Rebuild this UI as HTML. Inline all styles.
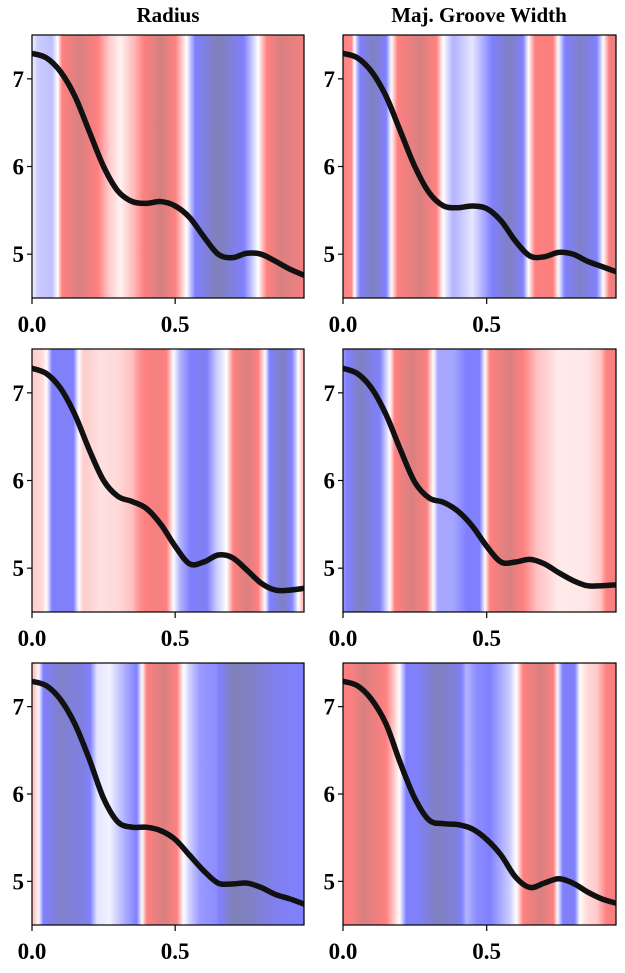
<!DOCTYPE html>
<html><head><meta charset="utf-8"><style>
html,body{margin:0;padding:0;background:#fff;}
svg text{font-family:"Liberation Serif","DejaVu Serif",serif;font-weight:bold;fill:#000;}
</style></head><body>
<svg id="fig" width="625" height="968" viewBox="0 0 625 968" xmlns="http://www.w3.org/2000/svg">
<defs id="defs"></defs>
<text x="168" y="22" font-size="21" text-anchor="middle">Radius</text>
<text x="479" y="22" font-size="21" text-anchor="middle">Maj. Groove Width</text>
</svg>
<script>
// shared axis data
const xTicks = [0.0, 0.5];
const xTickLabels = ["0.0", "0.5"];
const yTicks = [5, 6, 7];
const yTickLabels = ["5", "6", "7"];
const curveX = [0,0.05,0.1,0.15,0.2,0.25,0.3,0.35,0.4,0.45,0.5,0.55,0.6,0.65,0.7,0.75,0.8,0.85,0.9,0.95];
// curve values per panel
const curve1 = [7.29,7.24,7.08,6.8,6.4,6.0,5.72,5.6,5.58,5.6,5.55,5.42,5.2,5.0,4.96,5.01,5.0,4.92,4.83,4.76];
const curve2 = [7.29,7.24,7.08,6.8,6.4,6.0,5.7,5.55,5.53,5.55,5.52,5.38,5.15,4.98,4.97,5.02,5.0,4.92,4.86,4.8];
const curve3 = [7.28,7.22,7.05,6.75,6.35,6.0,5.82,5.76,5.68,5.5,5.25,5.05,5.07,5.15,5.12,4.98,4.83,4.75,4.75,4.77];
const curve4 = [7.28,7.22,7.05,6.75,6.35,5.98,5.8,5.75,5.65,5.48,5.25,5.07,5.07,5.1,5.05,4.95,4.86,4.8,4.8,4.81];
const curve5 = [7.29,7.24,7.08,6.8,6.4,5.95,5.68,5.62,5.62,5.58,5.48,5.3,5.12,4.98,4.97,4.98,4.93,4.85,4.8,4.74];
const curve6 = [7.29,7.24,7.08,6.8,6.35,5.95,5.7,5.66,5.65,5.6,5.48,5.3,5.05,4.93,4.98,5.03,4.98,4.88,4.8,4.75];
// background field values (positions in data x, values in [-1,1])
const bgX1 = [0,0.02,0.07,0.09,0.105,0.165,0.23,0.27,0.31,0.36,0.39,0.45,0.5,0.54,0.57,0.65,0.74,0.79,0.82,0.87,0.95];
const bgV1 = [-0.05,-0.2,-0.25,0,0.5,0.8,0.5,0.2,0.05,0.3,0.5,0.85,0.5,0,-0.5,-0.9,-0.5,0,0.5,0.8,0.6];
const bgX2 = [0,0.03,0.04,0.058,0.105,0.15,0.168,0.19,0.267,0.325,0.348,0.383,0.45,0.51,0.58,0.627,0.645,0.668,0.73,0.749,0.772,0.825,0.883,0.906,0.93,0.95];
const bgV2 = [0.5,0.45,0,-0.5,-0.85,-0.5,0,0.5,0.8,0.5,0,-0.3,-0.1,-0.45,-0.85,-0.5,0,0.5,0.55,0,-0.5,-0.8,-0.5,0,0.6,0.7];
const bgX3 = [0,0.035,0.052,0.07,0.11,0.145,0.163,0.18,0.24,0.3,0.35,0.378,0.436,0.47,0.494,0.517,0.552,0.6,0.645,0.68,0.703,0.75,0.79,0.814,0.83,0.878,0.913,0.93,0.95];
const bgV3 = [0.2,0.15,0,-0.5,-0.55,-0.5,0,0.2,0.12,0.15,0.25,0.45,0.6,0.5,0,-0.3,-0.5,-0.6,-0.2,0,0.5,0.8,0.5,0,-0.5,-0.85,-0.4,0,0.35];
const bgX4 = [0,0.023,0.058,0.128,0.163,0.18,0.238,0.29,0.314,0.331,0.383,0.43,0.476,0.494,0.511,0.58,0.627,0.673,0.75,0.85,0.894,0.917,0.95];
const bgV4 = [-0.4,-0.55,-0.85,-0.5,0,0.5,0.8,0.55,0,-0.35,-0.35,-0.5,-0.5,0,0.5,0.8,0.5,0.25,0.08,0.1,0.2,0.5,0.6];
const bgX5 = [0,0.01,0.023,0.04,0.099,0.18,0.203,0.227,0.27,0.32,0.366,0.384,0.401,0.459,0.506,0.529,0.552,0.587,0.645,0.703,0.773,0.843,0.95];
const bgV5 = [0.25,0.2,0,-0.5,-0.8,-0.65,-0.5,-0.1,-0.05,-0.3,-0.5,0,0.5,0.8,0.5,0,-0.2,-0.4,-0.45,-0.9,-0.8,-0.6,-0.5];
const bgX6 = [0,0.023,0.07,0.15,0.197,0.22,0.267,0.325,0.395,0.43,0.465,0.511,0.58,0.604,0.627,0.685,0.732,0.746,0.767,0.807,0.824,0.848,0.882,0.917,0.95];
const bgV6 = [0.5,0.5,0.8,0.5,0,-0.5,-0.55,-0.85,-0.7,-0.3,-0.45,-0.5,-0.2,0,0.5,0.8,0.55,0,-0.55,-0.5,0,0.15,0.2,0.5,0.6];

const XMIN=0, XMAX=0.95, YMIN=4.5, YMAX=7.5;
const NS="http://www.w3.org/2000/svg";
const svg=document.getElementById('fig');
const defs=document.getElementById('defs');

function seismic(v){
  const t=(Math.max(-1,Math.min(1,v))+1)/2;
  const st=[[0,[0,0,0.3]],[0.25,[0,0,1]],[0.5,[1,1,1]],[0.75,[1,0,0]],[1,[0.5,0,0]]];
  let i=0; while(i<st.length-2 && t>st[i+1][0]) i++;
  const a=st[i],b=st[i+1],f=(t-a[0])/(b[0]-a[0]);
  const c=a[1].map((x,k)=>x+(b[1][k]-x)*f);
  return 'rgb('+c.map(x=>Math.round(255*(0.5*x+0.5))).join(',')+')';
}
function interp(xs,vs,x){
  if(x<=xs[0]) return vs[0];
  for(let i=0;i<xs.length-1;i++){ if(x<=xs[i+1]){const f=(x-xs[i])/(xs[i+1]-xs[i]); return vs[i]+(vs[i+1]-vs[i])*f;} }
  return vs[vs.length-1];
}
function mk(tag,attrs){const e=document.createElementNS(NS,tag); for(const k in attrs) e.setAttribute(k,attrs[k]); return e;}

const panels=[
 {L:32,R:304,T:35,B:298,curve:curve1,bx:bgX1,bv:bgV1,name:'radius-top'},
 {L:343,R:616,T:35,B:298,curve:curve2,bx:bgX2,bv:bgV2,name:'groove-top'},
 {L:32,R:304,T:349,B:612,curve:curve3,bx:bgX3,bv:bgV3,name:'radius-middle'},
 {L:343,R:616,T:349,B:612,curve:curve4,bx:bgX4,bv:bgV4,name:'groove-middle'},
 {L:32,R:304,T:663,B:925,curve:curve5,bx:bgX5,bv:bgV5,name:'radius-bottom'},
 {L:343,R:616,T:663,B:925,curve:curve6,bx:bgX6,bv:bgV6,name:'groove-bottom'}
];

panels.forEach((p,idx)=>{
  const sx=x=>p.L+(x-XMIN)/(XMAX-XMIN)*(p.R-p.L);
  const sy=y=>p.B-(y-YMIN)/(YMAX-YMIN)*(p.B-p.T);
  const g=mk('g',{});
  
  
  svg.appendChild(g);
  const grad=mk('linearGradient',{id:'bg'+idx,x1:'0',x2:'1',y1:'0',y2:'0'});
  for(let s=0;s<=190;s++){
    const x=XMIN+(XMAX-XMIN)*s/190;
    grad.appendChild(mk('stop',{offset:(s/190).toFixed(4),'stop-color':seismic(interp(p.bx,p.bv,x))}));
  }
  defs.appendChild(grad);
  const bg=mk('rect',{x:p.L,y:p.T,width:p.R-p.L,height:p.B-p.T,fill:'url(#bg'+idx+')'});
  
  
  g.appendChild(bg);
  const pts=curveX.map((x,i)=>[sx(x),sy(p.curve[i])]);
  let d='M'+pts[0][0].toFixed(2)+','+pts[0][1].toFixed(2);
  for(let i=0;i<pts.length-1;i++){
    const p0=pts[Math.max(0,i-1)],p1=pts[i],p2=pts[i+1],p3=pts[Math.min(pts.length-1,i+2)];
    const c1=[p1[0]+(p2[0]-p0[0])/6,p1[1]+(p2[1]-p0[1])/6];
    const c2=[p2[0]-(p3[0]-p1[0])/6,p2[1]-(p3[1]-p1[1])/6];
    d+=' C'+c1.map(v=>v.toFixed(2)).join(',')+' '+c2.map(v=>v.toFixed(2)).join(',')+' '+p2.map(v=>v.toFixed(2)).join(',');
  }
  const clip=mk('clipPath',{id:'clip'+idx});
  clip.appendChild(mk('rect',{x:p.L,y:p.T,width:p.R-p.L,height:p.B-p.T}));
  defs.appendChild(clip);
  const line=mk('path',{d:d,fill:'none',stroke:'#111','stroke-width':'5.5','stroke-linecap':'round','clip-path':'url(#clip'+idx+')'});
  
  
  g.appendChild(line);
  const fr=mk('rect',{x:p.L,y:p.T,width:p.R-p.L,height:p.B-p.T,fill:'none',stroke:'#000','stroke-width':'1.2'});
  
  
  g.appendChild(fr);
  yTicks.forEach((v,i)=>{
    const y=sy(v);
    g.appendChild(mk('line',{x1:p.L-5,x2:p.L,y1:y,y2:y,stroke:'#000','stroke-width':'1.2'}));
    const t=mk('text',{x:p.L-8,y:y+8,'font-size':'23','text-anchor':'end'});
    t.textContent=yTickLabels[i];
    
    
    g.appendChild(t);
  });
  xTicks.forEach((v,i)=>{
    const x=sx(v);
    g.appendChild(mk('line',{x1:x,x2:x,y1:p.B,y2:p.B+6,stroke:'#000','stroke-width':'1.2'}));
    const t=mk('text',{x:x,y:p.B+34,'font-size':'23','text-anchor':'middle'});
    t.textContent=xTickLabels[i];
    
    
    g.appendChild(t);
  });
});
</script>
</body></html>
